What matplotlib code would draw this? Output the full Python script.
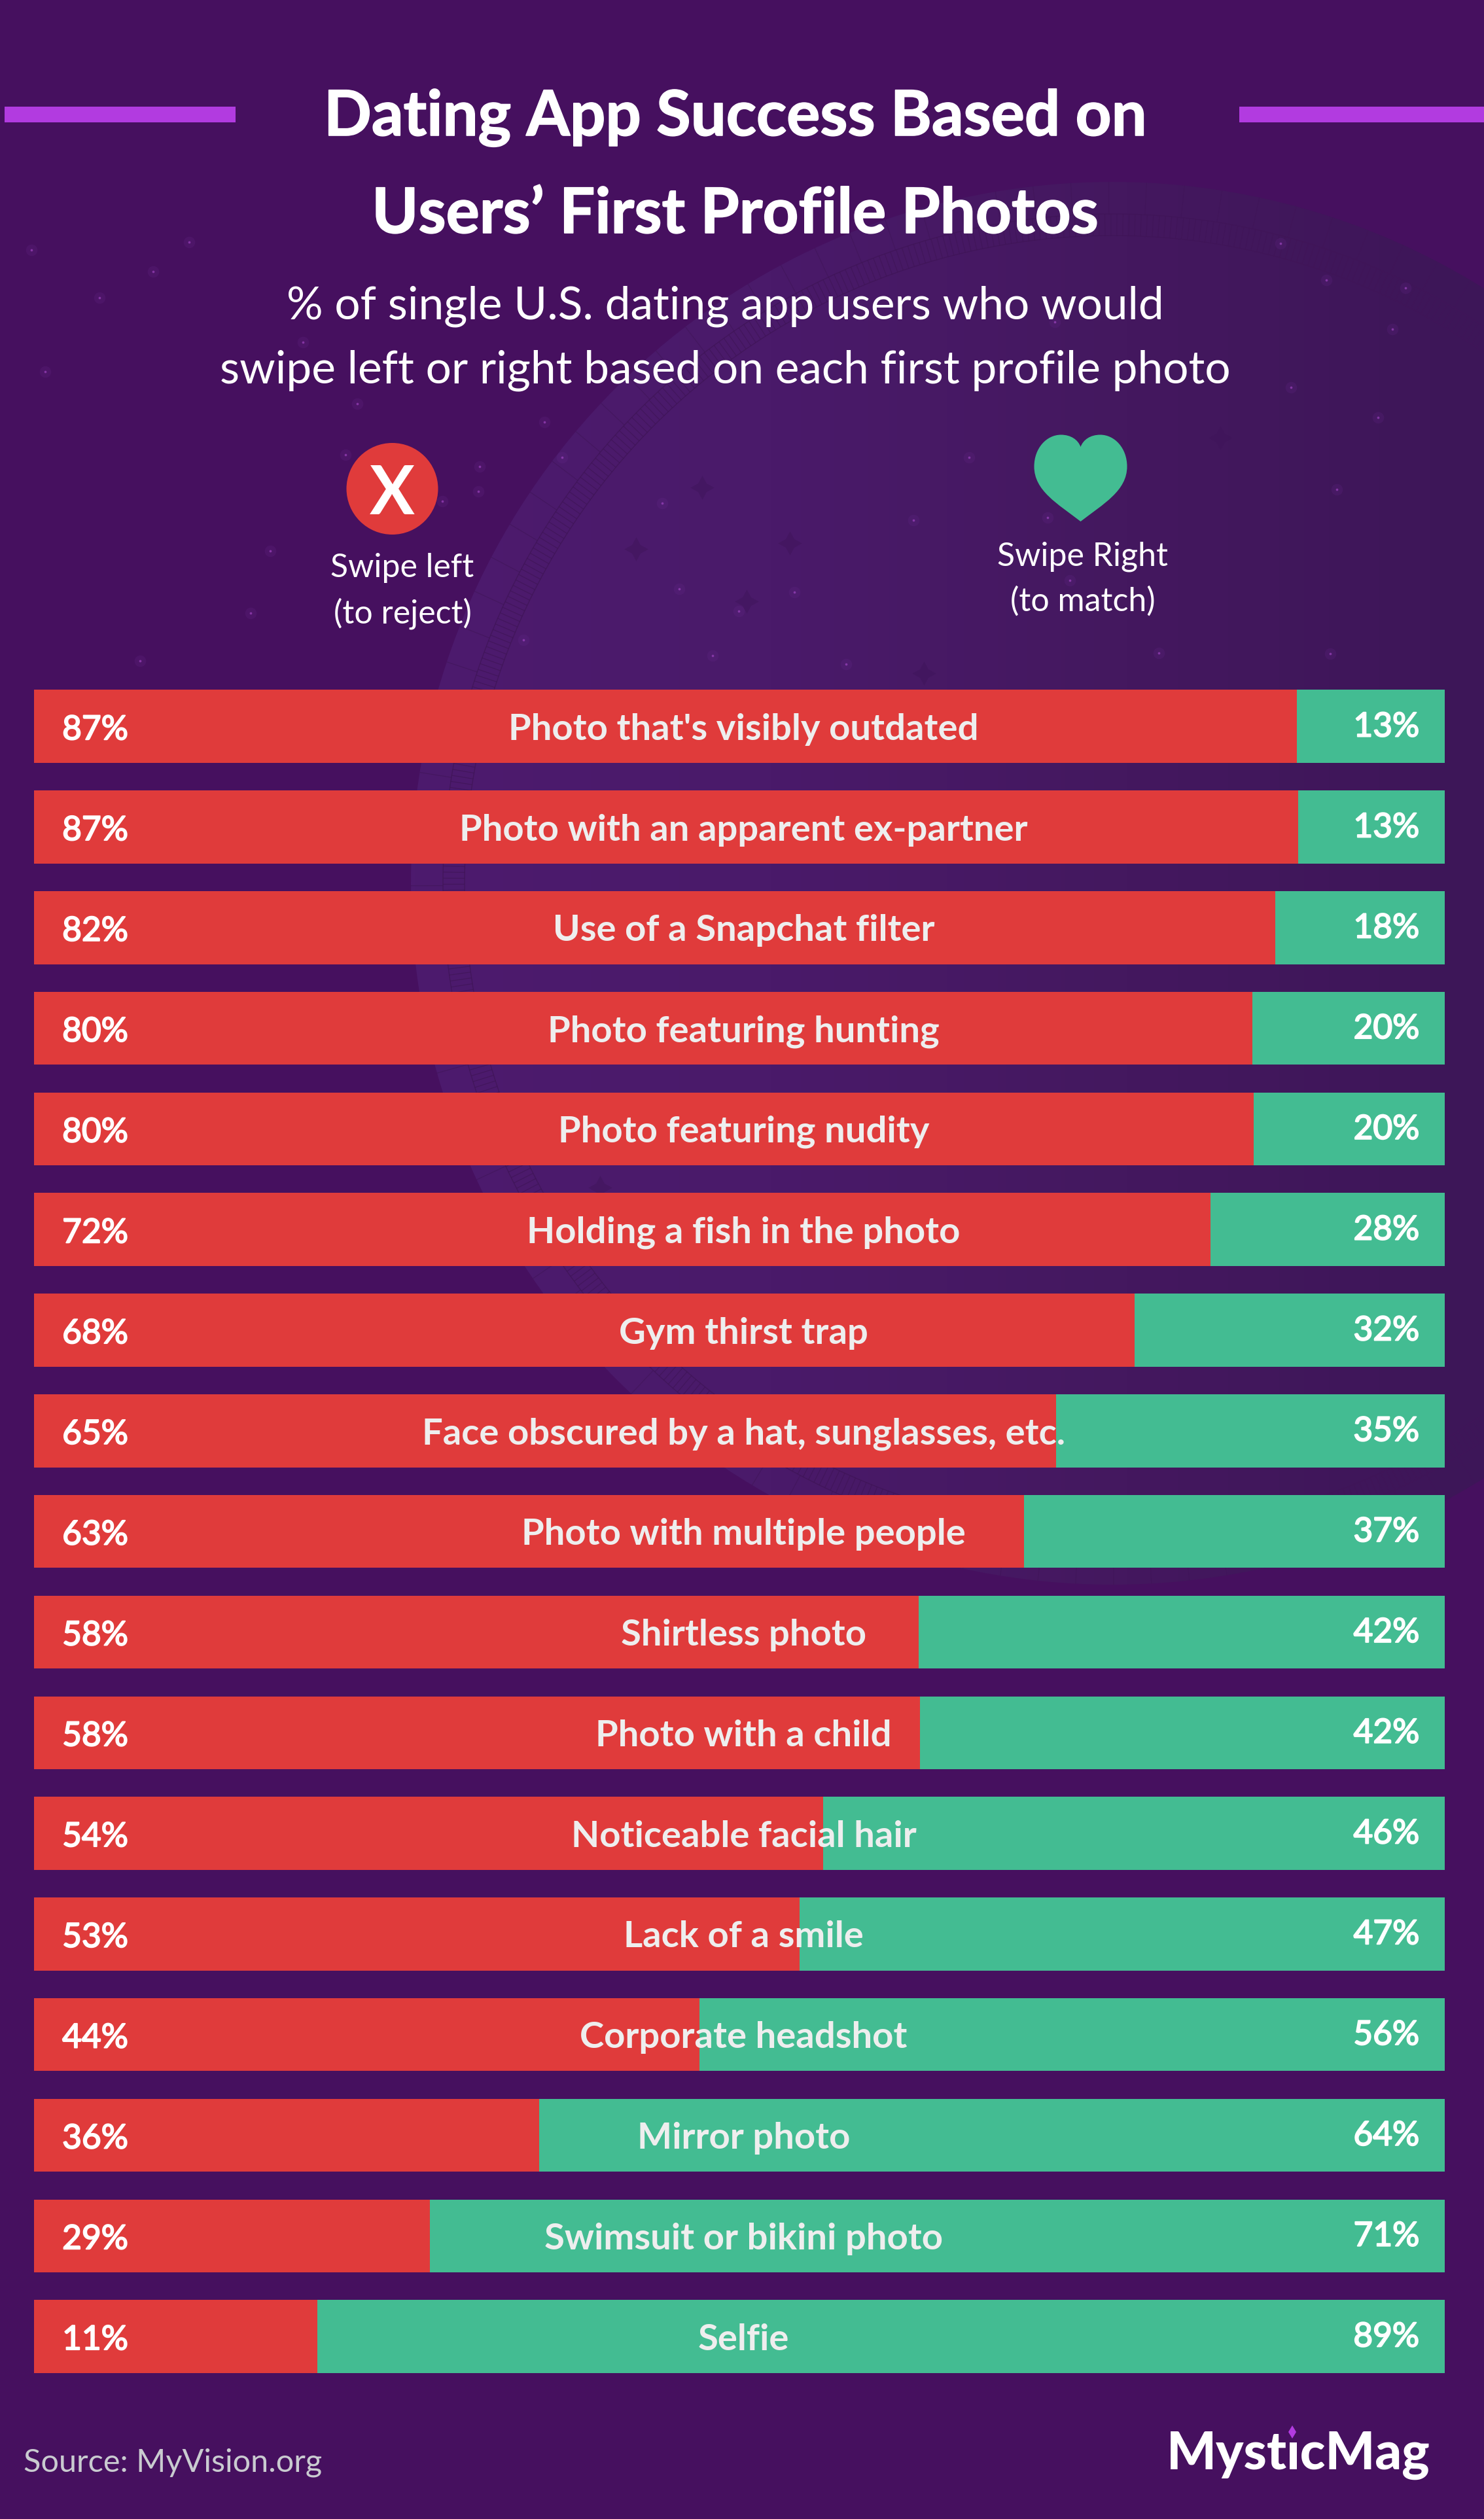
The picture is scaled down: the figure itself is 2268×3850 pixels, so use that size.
import numpy as np
import matplotlib
matplotlib.use("Agg")
import matplotlib.pyplot as plt
import matplotlib.patheffects as pe
from matplotlib.patches import Circle, PathPatch, Rectangle, Polygon
from matplotlib.path import Path
from matplotlib.colors import LinearSegmentedColormap
from matplotlib.collections import LineCollection

# ---------------- data ----------------
categories = ["Photo that's visibly outdated", "Photo with an apparent ex-partner",
              "Use of a Snapchat filter", "Photo featuring hunting", "Photo featuring nudity",
              "Holding a fish in the photo", "Gym thirst trap",
              "Face obscured by a hat, sunglasses, etc.", "Photo with multiple people",
              "Shirtless photo", "Photo with a child", "Noticeable facial hair",
              "Lack of a smile", "Corporate headshot", "Mirror photo",
              "Swimsuit or bikini photo", "Selfie"]
left_labels = [87, 87, 82, 80, 80, 72, 68, 65, 63, 58, 58, 54, 53, 44, 36, 29, 11]
right_labels = [13, 13, 18, 20, 20, 28, 32, 35, 37, 42, 42, 46, 47, 56, 64, 71, 89]
# drawn length of the red segment (differs from the printed labels)
red_drawn = [89.54, 89.61, 87.97, 86.36, 86.46, 83.40, 78.02, 72.47, 70.18,
             62.71, 62.80, 55.94, 54.29, 47.17, 35.83, 28.06, 20.08]

star_x = [1957, 2027, 2148, 2128, 1973, 2106, 1481, 2043, 1601, 1396, 1012, 1038, 1214, 1129,
          1089, 1293, 1771, 2033, 1612, 1635, 48, 289, 152, 234, 463, 546, 69, 731, 214, 800,
          383, 832, 528, 733, 676, 413, 859]
star_y = [372, 428, 440, 503, 592, 638, 699, 748, 791, 795, 769, 900, 905, 934,
          1002, 1015, 998, 999, 492, 887, 382, 370, 455, 415, 523, 617, 568, 751, 1010, 978,
          937, 645, 695, 713, 766, 842, 699]
dark_star_x = [1073, 972, 1141, 1412, 1865, 917, 1207]
dark_star_y = [745, 839, 919, 1029, 669, 1815, 830]

BG = "#46105F"
RED = "#E03B3B"
GREEN = "#43BC92"
VIOLET = "#B23BE0"
W, H = 2268, 3850
plt.rcParams["font.family"] = ["Lato", "DejaVu Sans"]


def thick(px, col):
    return [pe.withStroke(linewidth=px, foreground=col)]


fig = plt.figure(figsize=(W / 100, H / 100), dpi=100, facecolor=BG)
bg = fig.add_axes([0, 0, 1, 1], zorder=1)
bg.set_xlim(0, W)
bg.set_ylim(H, 0)
bg.axis("off")

# ---------------- planet backdrop ----------------
cx, cy, R = 1700, 1350, 1072
cmap = LinearSegmentedColormap.from_list("p", ["#4D1A6E", "#4A1A6A", "#44185F", "#3D1658"])
im = bg.imshow(np.linspace(0, 1, 256).reshape(1, -1), extent=(cx - R, W, cy + R, cy - R),
               aspect="auto", cmap=cmap, zorder=1)
im.set_clip_path(Circle((cx, cy), R, transform=bg.transData))
bg.set_xlim(0, W)
bg.set_ylim(H, 0)
ring_col = "#401558"
for r in (990, 1023):
    bg.add_patch(Circle((cx, cy), r, fill=False, ec=ring_col, lw=1.0, zorder=2, alpha=.8))
th_h = np.deg2rad(np.arange(0, 360, 0.52))
th_o = np.deg2rad(np.arange(0, 360, 3.1))
seg_h = [[(cx + 990 * np.cos(t), cy + 990 * np.sin(t)), (cx + 1023 * np.cos(t), cy + 1023 * np.sin(t))] for t in th_h]
seg_o = [[(cx + 1023 * np.cos(t), cy + 1023 * np.sin(t)), (cx + 1072 * np.cos(t), cy + 1072 * np.sin(t))] for t in th_o]
bg.add_collection(LineCollection(seg_h, colors=ring_col, linewidths=0.9, alpha=.75, zorder=2))
bg.add_collection(LineCollection(seg_o, colors=ring_col, linewidths=0.9, alpha=.6, zorder=2))

# stars
bg.scatter(star_x, star_y, s=160, color="#6A2A90", alpha=.2, linewidths=0, zorder=3)
bg.scatter(star_x, star_y, s=7, color="#A94CCB", alpha=.6, linewidths=0, zorder=3)
bg.scatter(dark_star_x, dark_star_y, s=700, marker=(4, 1, 0), color="#3E1459", alpha=.45, linewidths=0, zorder=3)

# ---------------- header ----------------
bg.add_patch(Rectangle((7, 163), 353, 24, fc=VIOLET, ec="none", zorder=4))
bg.add_patch(Rectangle((1894, 163), 374, 24, fc=VIOLET, ec="none", zorder=4))
for y, s in [(207, "Dating App Success Based on"), (356, "Users’ First Profile Photos")]:
    bg.text(1124, y, s, color="white", fontsize=69, fontweight="bold", ha="center", va="baseline",
            zorder=5, path_effects=thick(1.2, "white"))
bg.text(1108, 488, "% of single U.S. dating app users who would", color="white", fontsize=50,
        ha="center", va="baseline", zorder=5)
bg.text(1108, 585, "swipe left or right based on each first profile photo", color="white", fontsize=50,
        ha="center", va="baseline", zorder=5)

# legend glyphs
bg.add_patch(Circle((599.5, 747), 70, fc=RED, ec="none", zorder=4))
bg.text(599.5, 786, "X", color="white", fontsize=74, fontweight="bold", ha="center", va="baseline", zorder=5)
hx = 1651.5
heart = [(hx, 797), (hx - 35, 770), (hx - 71, 750), (hx - 71, 713),
         (hx - 71, 685), (hx - 52, 664.5), (hx - 30, 664.5),
         (hx - 15, 664.5), (hx - 4, 672), (hx, 683),
         (hx + 4, 672), (hx + 15, 664.5), (hx + 30, 664.5),
         (hx + 52, 664.5), (hx + 71, 685), (hx + 71, 713),
         (hx + 71, 750), (hx + 35, 770), (hx, 797)]
codes = [Path.MOVETO] + [Path.CURVE4] * 18
bg.add_patch(PathPatch(Path(heart, codes), fc=GREEN, ec="none", zorder=4))
for x, y, s in [(615, 882, "Swipe left"), (615, 952, "(to reject)"),
                (1655, 864, "Swipe Right"), (1655, 934, "(to match)")]:
    bg.text(x, y, s, color="white", fontsize=36, ha="center", va="baseline", zorder=5)

# ---------------- bars ----------------
top_c, pitch, bar_h = 1110.25, 153.8, 111.5
n = len(categories)
ax_top = top_c - pitch / 2
ax_h = pitch * n
ax = fig.add_axes([52 / W, 1 - (ax_top + ax_h) / H, 2156 / W, ax_h / H], zorder=2)
ax.patch.set_alpha(0)
ax.set_xlim(0, 100)
ax.set_ylim(n - 0.5, -0.5)
ax.axis("off")
ypos = np.arange(n)
red = np.array(red_drawn)
ax.barh(ypos, red, height=bar_h / pitch, color=RED, linewidth=0)
ax.barh(ypos, 100 - red, left=red, height=bar_h / pitch, color=GREEN, linewidth=0)
for i in range(n):
    ax.text(2.0, i + 0.01, f"{left_labels[i]}%", color="white", fontsize=37,
            ha="left", va="center_baseline", path_effects=thick(1.4, "white"))
    ax.text(98.2, i - 0.02, f"{right_labels[i]}%", color="white", fontsize=37,
            ha="right", va="center_baseline", path_effects=thick(1.4, "white"))
    ax.text(50.3, i, categories[i], color="#EEEEEE", fontsize=40.5, fontweight="bold",
            ha="center", va="center_baseline")

# ---------------- footer ----------------
bg.text(36, 3778, "Source: MyVision.org", color="#C9CBD0", fontsize=35, ha="left", va="baseline", zorder=5)
bg.text(1984, 3774, "MysticMag", color="white", fontsize=57.5, fontweight="black", ha="center", va="baseline", zorder=5)
bg.add_patch(Rectangle((1962, 3700), 26, 31, fc=BG, ec="none", zorder=6))
bg.add_patch(Polygon([(1975, 3707), (1981, 3717), (1975, 3727), (1969, 3717)], fc=VIOLET, ec="none", zorder=7))

fig.savefig("out.png", dpi=100, facecolor=BG)
